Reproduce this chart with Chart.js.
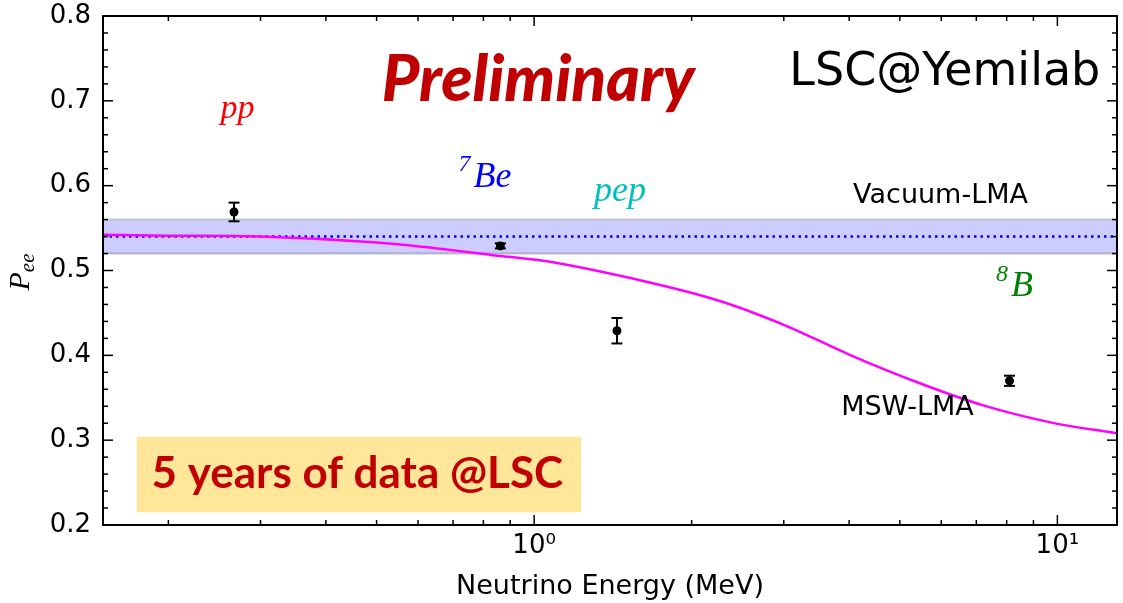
<!DOCTYPE html>
<html>
<head>
<meta charset="utf-8">
<script src="https://cdn.jsdelivr.net/npm/chart.js@4.4.1/dist/chart.umd.min.js"></script>
<style>
  html, body { margin: 0; padding: 0; background: #fff; }
</style>
</head>
<body>
<canvas id="peeChart" width="1123" height="603"></canvas>
<script>
const sources = ["pp", "7Be", "pep", "8B"];
const energies = [0.267, 0.862, 1.44, 8.1];
const peeValues = [0.569, 0.529, 0.429, 0.370];
const peeErrors = [0.011, 0.003, 0.015, 0.006];

// courbe MSW-LMA
const mswEnergy = [0.15, 0.2, 0.3, 0.5, 0.7, 0.865, 1.08, 1.58, 2.24, 3.0, 4.03, 5.41, 7.22, 9.7, 13];
const mswPee = [0.542, 0.541, 0.540, 0.533, 0.524, 0.517, 0.510, 0.489, 0.465, 0.436, 0.400, 0.368, 0.341, 0.321, 0.308];

// vide LMA (ligne + bande)
const vacuumEnergy = [0.15, 13];
const vacuumPee = [0.54, 0.54];
const bandHigh = [0.56, 0.56];
const bandLow = [0.52, 0.52];

// graduations
const xTickValues = [0.2, 0.3, 0.4, 0.5, 0.6, 0.7, 0.8, 0.9, 1, 2, 3, 4, 5, 6, 7, 8, 9, 10];
const xTickLabels = { 1: "10\u2070", 10: "10\u00B9" };
const yTickValues = [0.2, 0.3, 0.4, 0.5, 0.6, 0.7, 0.8];

const toPoints = (xs, ys) => xs.map((v, i) => ({ x: v, y: ys[i] }));

function line(ctx, x1, y1, x2, y2) {
  ctx.beginPath();
  ctx.moveTo(x1, y1);
  ctx.lineTo(x2, y2);
  ctx.stroke();
}

// texte avec exposant éventuel, centré sur x
function drawMath(ctx, x, y, sup, main, color, size) {
  const supFont = `italic ${Math.round(size * 0.68)}px "Liberation Serif"`;
  const mainFont = `italic ${size}px "Liberation Serif"`;
  ctx.font = supFont;
  const wSup = sup ? ctx.measureText(sup).width + 3 : 0;
  ctx.font = mainFont;
  const wMain = ctx.measureText(main).width;
  let x0 = x - (wSup + wMain) / 2;
  ctx.fillStyle = color;
  ctx.textBaseline = "alphabetic";
  ctx.textAlign = "left";
  if (sup) {
    ctx.font = supFont;
    ctx.fillText(sup, x0, y - size * 0.42);
    x0 += wSup;
  }
  ctx.font = mainFont;
  ctx.fillText(main, x0, y);
}

// Cadre, graduations vers l'intérieur, barres d'erreur
const cadre = {
  id: "cadre",
  beforeDatasetsDraw(chart) {
    const { ctx, scales: { x, y } } = chart;
    // encadré jaune
    const l = x.getPixelForValue(0.174), r = x.getPixelForValue(1.229);
    const t = y.getPixelForValue(0.304), b = y.getPixelForValue(0.215);
    ctx.save();
    ctx.fillStyle = "#ffe699";
    ctx.fillRect(l, t, r - l, b - t);
    ctx.restore();
  },
  afterDatasetsDraw(chart) {
    const { ctx, chartArea: a, scales: { x, y } } = chart;
    ctx.save();
    ctx.strokeStyle = "#000";

    // barres d'erreur
    ctx.lineWidth = 2;
    energies.forEach((e, i) => {
      const px = x.getPixelForValue(e);
      const top = y.getPixelForValue(peeValues[i] + peeErrors[i]);
      const bot = y.getPixelForValue(peeValues[i] - peeErrors[i]);
      line(ctx, px, top, px, bot);
      line(ctx, px - 5.5, top, px + 5.5, top);
      line(ctx, px - 5.5, bot, px + 5.5, bot);
    });

    ctx.lineWidth = 1.5;
    xTickValues.forEach(v => {
      const px = x.getPixelForValue(v);
      const len = (v === 1 || v === 10) ? 10 : 5;
      line(ctx, px, a.bottom, px, a.bottom - len);
      line(ctx, px, a.top, px, a.top + len);
    });
    for (let k = 0; k <= 30; k++) {
      const py = y.getPixelForValue(0.2 + k * 0.02);
      const len = k % 5 === 0 ? 10 : 5;
      line(ctx, a.left, py, a.left + len, py);
      line(ctx, a.right, py, a.right - len, py);
    }
    ctx.lineWidth = 2;
    ctx.strokeRect(a.left, a.top, a.right - a.left, a.bottom - a.top);
    ctx.restore();
  },
  afterDraw(chart) {
    const { ctx, scales: { x, y } } = chart;
    const X = v => x.getPixelForValue(v);
    const Y = v => y.getPixelForValue(v);
    ctx.save();

    // étiquettes des sources
    drawMath(ctx, X(0.271), Y(0.680), "", "pp", "#ff0000", 34);
    drawMath(ctx, X(0.806), Y(0.599), "7", "Be", "#0000ff", 36);
    drawMath(ctx, X(1.459), Y(0.582), "", "pep", "#00bfbf", 36);
    drawMath(ctx, X(8.28), Y(0.470), "8", "B", "#008000", 36);

    ctx.textBaseline = "alphabetic";
    ctx.fillStyle = "#000";
    ctx.textAlign = "center";
    ctx.font = '27px "DejaVu Sans"';
    ctx.fillText("Vacuum-LMA", X(5.98), Y(0.579));
    ctx.fillText("MSW-LMA", X(5.17), Y(0.330));

    ctx.textAlign = "right";
    ctx.font = '46px "DejaVu Sans"';
    ctx.fillText("LSC@Yemilab", X(12.08), Y(0.719));

    ctx.textAlign = "center";
    ctx.fillStyle = "#c00000";
    ctx.font = 'italic 900 64px "Lato"';
    ctx.fillText("Preliminary", X(1.018), Y(0.700));
    ctx.font = 'bold 44px "Lato"';
    ctx.fillText("5 years of data @LSC", X(0.4594), Y(0.2437));

    // titre de l'axe y : P_ee
    ctx.translate(19, 272);
    ctx.rotate(-Math.PI / 2);
    ctx.fillStyle = "#000";
    ctx.textAlign = "left";
    ctx.font = 'italic 30px "Liberation Serif"';
    const wP = ctx.measureText("P").width;
    ctx.font = 'italic 21px "Liberation Serif"';
    const wE = ctx.measureText("ee").width;
    const x0 = -(wP + wE) / 2;
    ctx.font = 'italic 30px "Liberation Serif"';
    ctx.fillText("P", x0, 10);
    ctx.font = 'italic 21px "Liberation Serif"';
    ctx.fillText("ee", x0 + wP, 15);
    ctx.restore();
  }
};

const ctx = document.getElementById("peeChart").getContext("2d");
new Chart(ctx, {
  type: "scatter",
  data: {
    datasets: [
      {
        label: "Mesures",
        data: toPoints(energies, peeValues),
        pointRadius: 4.5,
        pointBackgroundColor: "#000",
        pointBorderWidth: 0,
        showLine: false
      },
      {
        label: "MSW-LMA",
        data: toPoints(mswEnergy, mswPee),
        showLine: true,
        borderColor: "#ff00ff",
        borderWidth: 2.5,
        pointRadius: 0,
        tension: 0.35
      },
      {
        label: "Vacuum-LMA",
        data: toPoints(vacuumEnergy, vacuumPee),
        showLine: true,
        borderColor: "#0000ff",
        borderWidth: 2.5,
        borderDash: [2.5, 4],
        pointRadius: 0
      },
      {
        label: "bande haute",
        data: toPoints(vacuumEnergy, bandHigh),
        showLine: true,
        borderColor: "#c6c6c6",
        borderWidth: 2,
        backgroundColor: "rgba(0, 0, 255, 0.2)",
        fill: "+1",
        pointRadius: 0
      },
      {
        label: "bande basse",
        data: toPoints(vacuumEnergy, bandLow),
        showLine: true,
        borderColor: "#c6c6c6",
        borderWidth: 2,
        fill: false,
        pointRadius: 0
      }
    ]
  },
  options: {
    responsive: false,
    animation: false,
    devicePixelRatio: 1,
    layout: { padding: { top: 16, right: 6, left: 0, bottom: 0 } },
    plugins: { legend: { display: false }, tooltip: { enabled: false } },
    scales: {
      x: {
        type: "logarithmic",
        min: 0.15,
        max: 13,
        afterBuildTicks: s => { s.ticks = xTickValues.map(v => ({ value: v })); },
        afterFit: s => { s.height = 78; s.paddingLeft = 0; s.paddingRight = 0; },
        grid: { display: true, drawOnChartArea: false, drawTicks: false },
        border: { display: false },
        ticks: {
          autoSkip: false,
          maxRotation: 0,
          padding: 6,
          color: "#000",
          font: { family: "DejaVu Sans", size: 26 },
          callback: v => xTickLabels[v] || ""
        },
        title: {
          display: true,
          text: "Neutrino Energy (MeV)",
          color: "#000",
          font: { family: "DejaVu Sans", size: 27 },
          padding: { top: 0, bottom: 0 }
        }
      },
      y: {
        min: 0.2,
        max: 0.8,
        afterBuildTicks: s => { s.ticks = yTickValues.map(v => ({ value: v })); },
        afterFit: s => { s.width = 103; s.paddingTop = 0; s.paddingBottom = 0; },
        grid: { display: true, drawOnChartArea: false, drawTicks: false },
        border: { display: false },
        ticks: {
          padding: 12,
          color: "#000",
          font: { family: "DejaVu Sans", size: 26 },
          callback: v => v.toFixed(1)
        }
      }
    }
  },
  plugins: [cadre]
});
</script>
</body>
</html>
